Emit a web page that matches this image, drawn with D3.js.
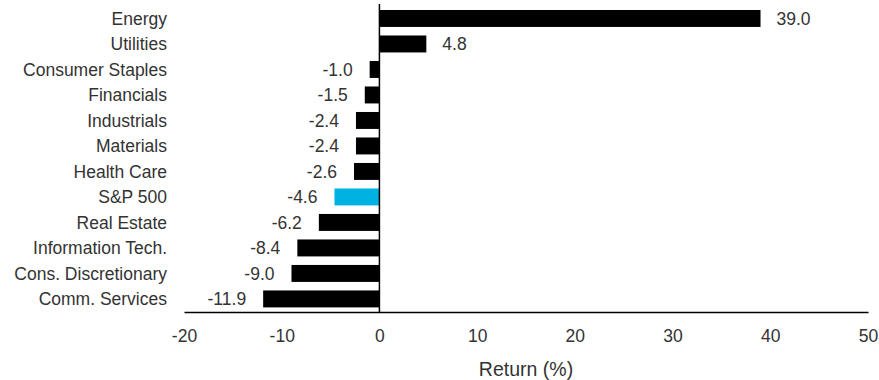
<!DOCTYPE html>
<html>
<head>
<meta charset="utf-8">
<script src="https://cdn.jsdelivr.net/npm/d3@7"></script>
<style>
  html, body { margin: 0; padding: 0; background: #fff; }
  svg { display: block; }
</style>
</head>
<body>
<div id="chart"></div>
<script>
const sectors = [
  "Energy", "Utilities", "Consumer Staples", "Financials", "Industrials",
  "Materials", "Health Care", "S&P 500", "Real Estate", "Information Tech.",
  "Cons. Discretionary", "Comm. Services"
];
const returns = [39.0, 4.8, -1.0, -1.5, -2.4, -2.4, -2.6, -4.6, -6.2, -8.4, -9.0, -11.9];
const xTicks = [-20, -10, 0, 10, 20, 30, 40, 50];
const highlight = "S&P 500";

const width = 879;
const height = 380;
const fontFamily = "'Liberation Sans', Arial, sans-serif";
const textColor = "#333";
const labelSize = 17.5;

// plain hyphen for negatives, like the source
const fmt = (v) => v.toFixed(1);
const fmtTick = (v) => String(v);

const data = sectors.map((name, i) => ({ name, value: returns[i] }));

const svg = d3.select("#chart")
  .append("svg")
  .attr("width", width)
  .attr("height", height)
  .style("font-family", fontFamily);

const x = d3.scaleLinear()
  .domain([-20, 50])
  .range([184, 868]);

const y = d3.scaleBand()
  .domain(sectors)
  .range([5.4, 312])
  .paddingInner(0.335)
  .paddingOuter(0.18);

const axisY = 312;

// bars
svg.append("g")
  .selectAll("rect")
  .data(data)
  .join("rect")
  .attr("x", (d) => x(Math.min(0, d.value)))
  .attr("y", (d) => y(d.name))
  .attr("width", (d) => Math.abs(x(d.value) - x(0)))
  .attr("height", y.bandwidth())
  .attr("fill", (d) => (d.name === highlight ? "#00b2e2" : "#000"));

// zero line
svg.append("line")
  .attr("x1", x(0))
  .attr("x2", x(0))
  .attr("y1", 4)
  .attr("y2", axisY)
  .attr("stroke", "#000")
  .attr("stroke-width", 1.5);

// value labels
svg.append("g")
  .selectAll("text")
  .data(data)
  .join("text")
  .attr("x", (d) => (d.value >= 0 ? x(d.value) + 16 : x(d.value) - 17))
  .attr("y", (d) => y(d.name) + y.bandwidth() / 2)
  .attr("dy", "0.35em")
  .attr("text-anchor", (d) => (d.value >= 0 ? "start" : "end"))
  .attr("font-size", labelSize)
  .attr("fill", textColor)
  .text((d) => fmt(d.value));

// category labels
svg.append("g")
  .selectAll("text")
  .data(data)
  .join("text")
  .attr("x", 167)
  .attr("y", (d) => y(d.name) + y.bandwidth() / 2)
  .attr("dy", "0.35em")
  .attr("text-anchor", "end")
  .attr("font-size", labelSize)
  .attr("fill", textColor)
  .text((d) => d.name);

// x axis
const xAxis = svg.append("g")
  .attr("transform", `translate(0,${axisY})`)
  .call(d3.axisBottom(x).tickValues(xTicks).tickFormat(fmtTick).tickSize(0).tickPadding(18));

xAxis.select(".domain")
  .attr("stroke", "#000")
  .attr("stroke-width", 1.5);

xAxis.selectAll(".tick text")
  .attr("font-size", labelSize)
  .attr("font-family", fontFamily)
  .attr("fill", textColor);

svg.append("text")
  .attr("x", (x.range()[0] + x.range()[1]) / 2)
  .attr("y", 376)
  .attr("text-anchor", "middle")
  .attr("font-size", 19.5)
  .attr("fill", textColor)
  .text("Return (%)");
</script>
</body>
</html>
